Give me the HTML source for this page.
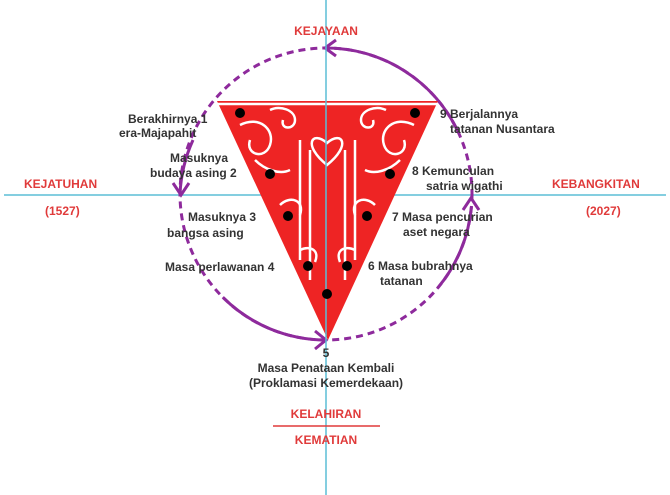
<!DOCTYPE html>
<html><head><meta charset="utf-8"><style>
html,body{margin:0;padding:0;background:#fff;}
svg{display:block;}
text{font-family:"Liberation Sans",sans-serif;font-weight:bold;}
.t{fill:#333;font-size:12px;}
.r{fill:#e03a3a;font-size:12px;}
</style></head><body>
<svg width="670" height="495" viewBox="0 0 670 495" xmlns="http://www.w3.org/2000/svg">
<line x1="4" y1="195" x2="666" y2="195" stroke="#5bbdd6" stroke-width="1.5"/>
<circle cx="326" cy="194" r="146" fill="none" stroke="#8e2a9c" stroke-width="3" stroke-dasharray="7,5"/>
<g fill="none" stroke="#8e2a9c" stroke-width="3">
<path d="M458.3,132.3 A146,146 0 0 0 326,48"/>
<path d="M193,140 A146,146 0 0 0 180,194"/>
<path d="M222.8,297.2 A146,146 0 0 0 326,340"/>
<path d="M437.8,287.8 A146,146 0 0 0 471.4,206.7"/>
<path d="M336,40 L325,48 L336,56"/>
<path d="M173,183 L181,195 L189,183"/>
<path d="M315,331 L326,340 L315,349"/>
<path d="M463,210 L471,198 L479,210"/>
</g>
<polygon points="217,101 438,101 328,340" fill="#ee2424"/>
<g fill="none" stroke="#fff" stroke-width="2.5">
<path d="M240,125 c20,-10 35,5 30,20 c-5,15 -25,10 -20,-5"/>
<path d="M414,125 c-20,-10 -35,5 -30,20 c5,15 25,10 20,-5"/>
<path d="M270,110 c10,-5 25,0 25,10 c0,10 -15,10 -12,0"/>
<path d="M386,110 c-10,-5 -25,0 -25,10 c0,10 15,10 12,0"/>
<path d="M300,140 L300,260 M310,150 L310,280 M345,150 L345,280 M355,140 L355,260"/>
<path d="M327,165 c-25,-20 -15,-35 0,-22 c15,-13 25,2 0,22 z"/>
<path d="M255,160 c10,10 25,15 35,10 M400,160 c-10,10 -25,15 -35,10"/>
<path d="M280,205 c10,-10 25,-5 20,10 M375,205 c-10,-10 -25,-5 -20,10"/>
<path d="M300,250 c10,-5 20,0 15,12 M355,250 c-10,-5 -20,0 -15,12"/>
<path d="M215,104 L438,104"/>
</g>
<line x1="326" y1="0" x2="326" y2="495" stroke="#5bbdd6" stroke-width="1.5"/>
<g fill="#000">
<circle cx="240" cy="113" r="5"/><circle cx="415" cy="113" r="5"/>
<circle cx="270" cy="174" r="5"/><circle cx="390" cy="174" r="5"/>
<circle cx="288" cy="216" r="5"/><circle cx="367" cy="216" r="5"/>
<circle cx="308" cy="266" r="5"/><circle cx="347" cy="266" r="5"/>
<circle cx="327" cy="294" r="5"/>
</g>
<text class="r" x="326" y="35" text-anchor="middle">KEJAYAAN</text>
<text class="r" x="24" y="188">KEJATUHAN</text>
<text class="r" x="45" y="215">(1527)</text>
<text class="r" x="552" y="188">KEBANGKITAN</text>
<text class="r" x="586" y="215">(2027)</text>
<text class="r" x="326" y="418" text-anchor="middle">KELAHIRAN</text>
<line x1="273" y1="426" x2="380" y2="426" stroke="#e03a3a" stroke-width="1.5"/>
<text class="r" x="326" y="444" text-anchor="middle">KEMATIAN</text>
<g class="t">
<text class="t" x="128" y="123">Berakhirnya 1</text>
<text class="t" x="119" y="137">era-Majapahit</text>
<text class="t" x="170" y="162">Masuknya</text>
<text class="t" x="150" y="177">budaya asing 2</text>
<text class="t" x="188" y="221">Masuknya 3</text>
<text class="t" x="167" y="237">bangsa asing</text>
<text class="t" x="165" y="271">Masa perlawanan  4</text>
<text class="t" x="440" y="118">9 Berjalannya</text>
<text class="t" x="450" y="133">tatanan Nusantara</text>
<text class="t" x="412" y="175">8  Kemunculan</text>
<text class="t" x="426" y="190">satria wigathi</text>
<text class="t" x="392" y="221">7 Masa pencurian</text>
<text class="t" x="403" y="236">aset negara</text>
<text class="t" x="368" y="270">6 Masa bubrahnya</text>
<text class="t" x="380" y="285">tatanan</text>
<text class="t" x="326" y="357" text-anchor="middle">5</text>
<text class="t" x="326" y="372" text-anchor="middle">Masa Penataan Kembali</text>
<text class="t" x="326" y="387" text-anchor="middle">(Proklamasi Kemerdekaan)</text>
</g>
</svg>
</body></html>
